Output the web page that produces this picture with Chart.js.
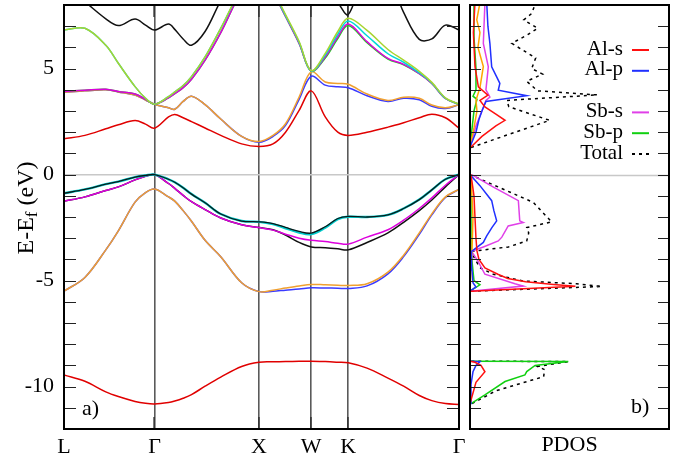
<!DOCTYPE html>
<html>
<head>
<meta charset="utf-8">
<script src="https://cdn.jsdelivr.net/npm/chart.js@4.4.1/dist/chart.umd.min.js"></script>
<style>
  html, body { margin: 0; padding: 0; background: #fff; }
  #wrap { position: relative; width: 696px; height: 462px; }
  #bands { position: absolute; left: 0; top: 0; }
  #pdos { position: absolute; left: 462px; top: 0; }
</style>
</head>
<body>
<div id="wrap">
  <canvas id="bands" width="466" height="462"></canvas>
  <canvas id="pdos" width="234" height="462"></canvas>
</div>
<script>
// k-path L - Γ - X - W - K - Γ (path length units)
const kSym = [0, 0.866, 1.866, 2.366, 2.72, 3.78];
const kLabels = ["L", "Γ", "X", "W", "K", "Γ"];
const kPts = [0, 0.2, 0.4, 0.52, 0.68, 0.78, 0.866, 1.0, 1.06, 1.14, 1.22, 1.35, 1.5, 1.7, 1.866,
  2.0, 2.12, 2.25, 2.366, 2.5, 2.62, 2.72, 2.9, 3.1, 3.25, 3.4, 3.52, 3.65, 3.78];

// valence bands (eV, relative to E_f)
const vRed = [-9.45, -9.75, -10.25, -10.47, -10.7, -10.79, -10.82, -10.75, -10.68, -10.55, -10.38, -9.98, -9.55, -9.05, -8.85,
  -8.83, -8.82, -8.81, -8.8, -8.82, -8.85, -8.88, -9.13, -9.6, -9.98, -10.42, -10.66, -10.8, -10.84];
const vOrange = [-5.5, -4.85, -3.55, -2.65, -1.3, -0.85, -0.68, -1.05, -1.25, -1.7, -2.2, -3.1, -3.87, -5.1, -5.52,
  -5.45, -5.35, -5.25, -5.18, -5.2, -5.22, -5.23, -5.15, -4.6, -3.8, -2.75, -1.85, -1.05, -0.7];
const vBlue = [-5.5, -4.85, -3.55, -2.65, -1.3, -0.85, -0.68, -1.05, -1.25, -1.7, -2.2, -3.1, -3.87, -5.1, -5.52,
  -5.5, -5.45, -5.4, -5.34, -5.35, -5.36, -5.37, -5.25, -4.68, -3.87, -2.82, -1.9, -1.08, -0.7];
const vMagenta = [-1.26, -1.05, -0.75, -0.58, -0.25, -0.08, 0, -0.42, -0.65, -0.98, -1.28, -1.65, -2.05, -2.37, -2.5,
  -2.62, -2.81, -3.0, -3.1, -3.16, -3.24, -3.28, -2.95, -2.6, -2.15, -1.6, -1.1, -0.5, 0];
const vCyan = [-0.88, -0.7, -0.45, -0.33, -0.12, -0.04, 0, -0.22, -0.36, -0.62, -0.92, -1.33, -1.86, -2.19, -2.23,
  -2.34, -2.53, -2.73, -2.81, -2.5, -2.1, -1.99, -2.0, -1.9, -1.6, -1.18, -0.72, -0.22, 0];
const vBlackTop = [-0.88, -0.7, -0.45, -0.33, -0.12, -0.04, 0, -0.22, -0.36, -0.62, -0.92, -1.33, -1.86, -2.19, -2.23,
  -2.31, -2.49, -2.68, -2.76, -2.46, -2.07, -1.97, -2.0, -1.9, -1.6, -1.18, -0.72, -0.22, 0];
const vBlackLow = [-1.26, -1.05, -0.75, -0.58, -0.25, -0.08, 0, -0.42, -0.65, -0.98, -1.28, -1.65, -2.05, -2.37, -2.5,
  -2.6, -2.85, -3.2, -3.41, -3.45, -3.5, -3.55, -3.2, -2.75, -2.25, -1.7, -1.2, -0.58, 0];

// conduction bands
const cRed = [1.69, 1.85, 2.16, 2.35, 2.55, 2.38, 2.19, 2.72, 2.84, 2.68, 2.5, 2.2, 1.85, 1.45, 1.33,
  1.45, 2.0, 3.03, 3.95, 2.72, 2.0, 1.85, 2.0, 2.24, 2.45, 2.68, 2.85, 2.68, 2.19];
const cOrange = [3.88, 3.95, 4.0, 3.9, 3.75, 3.52, 3.32, 3.15, 3.08, 3.45, 3.7, 3.3, 2.62, 1.8, 1.56,
  1.85, 2.4, 3.66, 4.85, 4.37, 4.3, 4.26, 3.8, 3.5, 3.65, 3.6, 3.28, 3.15, 3.3];
const cBlue = [3.88, 3.95, 4.0, 3.9, 3.75, 3.52, 3.32, 3.15, 3.08, 3.45, 3.7, 3.3, 2.62, 1.8, 1.53,
  1.8, 2.32, 3.55, 4.64, 4.22, 4.14, 4.1, 3.72, 3.45, 3.6, 3.53, 3.22, 3.12, 3.3];
const cMagenta = [3.92, 3.98, 4.03, 3.92, 3.8, 3.55, 3.32, 3.62, 3.82, 4.1, 4.5, 5.4, 6.7, 8.65, 9.6,
  8.6, 7.46, 6.19, 4.88, 5.56, 6.5, 7.1, 6.27, 5.48, 5.2, 4.76, 4.3, 3.59, 3.32];
const cGreen = [3.92, 3.98, 4.03, 3.92, 3.8, 3.55, 3.32, 3.62, 3.82, 4.1, 4.5, 5.4, 6.7, 8.65, 9.6,
  8.6, 7.46, 6.19, 4.88, 5.5, 6.42, 7.03, 6.22, 5.45, 5.18, 4.76, 4.3, 3.59, 3.32];
const cCyan = [6.82, 6.9, 6.1, 5.25, 4.15, 3.6, 3.32, 3.68, 3.9, 4.2, 4.62, 5.55, 6.9, 8.75, 9.7,
  8.65, 7.5, 6.24, 4.88, 5.64, 6.62, 7.25, 6.55, 5.7, 5.3, 4.8, 4.32, 3.6, 3.32];
const cLime = [6.82, 6.9, 6.1, 5.25, 4.15, 3.6, 3.32, 3.68, 3.9, 4.2, 4.62, 5.55, 6.9, 8.8, 9.8,
  8.7, 7.55, 6.28, 4.9, 5.72, 6.75, 7.37, 6.8, 5.9, 5.4, 4.87, 4.35, 3.62, 3.32];
const cBlack = [8.9, 8.15, 7.35, 7.03, 7.34, 7.05, 6.82, 7.1, 6.85, 6.4, 6.1, 6.75, 8.2, 9.8, 10.5,
  10.3, 9.9, 9.5, 9.2, 8.6, 8.1, 7.55, 9.6, 9.3, 7.65, 6.38, 6.4, 7.05, 6.82];

// projected DOS: [energy, dos] pairs, null separates the band groups
const pdosAlS = [[-10.8, 0], [-10.3, 0.15], [-9.8, 0.3], [-9.3, 0.75], [-9.0, 0.55], [-8.85, 0.25], [-8.8, 0], null,
  [-5.5, 0.05], [-5.27, 5.3], [-5.18, 4.2], [-5.05, 2.8], [-4.9, 1.9], [-4.7, 1.4], [-4.4, 0.75], [-4.0, 0.45],
  [-3.6, 0.35], [-3.0, 0.3], [-2.0, 0.25], [-1.0, 0.2], [0, 0.05], null,
  [1.3, 0.05], [1.8, 0.6], [2.3, 1.3], [2.56, 1.76], [2.85, 1.3], [3.19, 0.75], [3.5, 0.5], [3.75, 0.9],
  [4.14, 0.42], [5.1, 0.25], [6.7, 0.17], [8.1, 0.25]];
const pdosAlP = [[-10.8, 0], [-9.9, 0.05], [-9.3, 0.15], [-9.0, 0.3], [-8.82, 0.5], [-8.8, 0], null,
  [-5.5, 0], [-5.3, 0.3], [-5.1, 0.15], [-4.5, 0.1], [-3.62, 0.08], [-3.2, 0.67], [-2.89, 0.84], [-2.5, 1.1],
  [-2.18, 1.34], [-1.7, 1.2], [-1.23, 1.09], [-0.52, 0.5], [0, 0], null,
  [1.3, 0], [2.0, 0.3], [2.6, 0.45], [3.0, 0.6], [3.45, 0.8], [3.72, 2.85], [3.98, 1.42], [4.3, 1.5],
  [4.61, 1.34], [5.08, 1.09], [6.19, 1.0], [7.0, 0.9], [8.1, 0.84]];
const pdosAlD = [[-5.5, 0], [-3.6, 0.1], [-2.0, 0.15], [0, 0.05], null,
  [1.3, 0], [2.2, 0.2], [3.0, 0.35], [3.5, 0.3], [4.1, 0.5], [5.1, 0.67], [6.0, 0.4], [6.7, 0.5], [7.3, 0.34], [8.1, 0.5]];
const pdosSbS = [[-5.5, 0], [-5.26, 2.68], [-5.15, 2.26], [-4.7, 0.75], [-4.08, 0.4], [-3.62, 0.08], [-3.4, 0.7],
  [-3.13, 1.42], [-2.95, 1.6], [-2.42, 1.92], [-2.26, 2.68], [-2.18, 2.5], [-1.23, 2.43], [-0.6, 1.2], [0, 0.08], null,
  [1.3, 0], [2.3, 0.3], [3.0, 0.6], [3.5, 0.8], [3.66, 1.0], [4.0, 0.8], [5.08, 0.92], [6.19, 0.67], [8.1, 0.75]];
const pdosSbP = [[-10.8, 0.05], [-10.39, 0.75], [-9.76, 1.76], [-9.45, 2.76], [-9.29, 2.85], [-9.0, 3.27],
  [-8.82, 4.94], [-8.8, 0.05], null,
  [-5.5, 0], [-5.2, 0.5], [-5.0, 0.2], [-3.6, 0.05], [0, 0.05], null,
  [1.3, 0], [3.0, 0.2], [3.55, 0.35], [3.7, 0.15], [4.0, 0.3], [5.0, 0.3], [6.5, 0.2], [8.1, 0.2]];
const pdosTotal = [[-10.8, 0.1], [-10.2, 1.3], [-9.53, 3.7], [-9.2, 3.75], [-9.05, 3.4], [-8.82, 4.95], [-8.8, 0.05], null,
  [-5.5, 0.05], [-5.28, 6.62], [-5.15, 5.36], [-5.02, 2.68], [-4.7, 1.17], [-4.39, 0.5], [-3.9, 0.2], [-3.62, 0.1],
  [-3.41, 1.93], [-3.13, 2.85], [-2.75, 2.95], [-2.5, 2.85], [-2.23, 4.1], [-1.31, 3.18], [-0.02, 0.05], null,
  [1.28, 0.05], [2.56, 4.0], [3.2, 1.95], [3.5, 1.85], [3.76, 6.4], [3.95, 3.4], [4.4, 2.85], [4.74, 3.65],
  [5.0, 3.1], [5.5, 3.3], [6.19, 2.1], [6.6, 2.9], [6.9, 3.4], [7.3, 2.7], [7.6, 3.1], [8.1, 3.3]];

const E_MIN = -12, E_MAX = 8;
const FONT = '"Liberation Serif", "Times New Roman", serif';
Chart.defaults.font.family = FONT;
Chart.defaults.font.size = 22;
Chart.defaults.color = "#000";

function band(vals, color, width) {
  return {
    data: vals.map((e, i) => ({ x: kPts[i], y: e })),
    borderColor: color, borderWidth: width || 1.5,
    showLine: true, pointRadius: 0, fill: false,
    tension: 0.35, clip: 0
  };
}

// listed bottom-most first, reversed below because dataset 0 is painted last
const bandSets = [
  band(vBlue, "#3a3aff"), band(vOrange, "#f0a030"), band(vRed, "#e00000"),
  band(vBlackLow, "#111"), band(vMagenta, "#dd00dd"),
  band(vCyan, "#00cccc", 2.4), band(vBlackTop, "#0a1a1a", 1.3),
  band(cBlue, "#3a3aff"), band(cOrange, "#f0a030"), band(cRed, "#e00000"),
  band(cGreen, "#22cc22"), band(cMagenta, "#dd00dd"), band(cCyan, "#00d8d8"),
  band(cLime, "#a8d430"), band(cBlack, "#111")
].reverse();

function inwardTicks(ctx, a, yScale, len) {
  ctx.strokeStyle = "#222";
  ctx.lineWidth = 1.2;
  for (let v = E_MIN; v <= E_MAX; v++) {
    const py = Math.round(yScale.getPixelForValue(v)) + 0.5;
    ctx.beginPath();
    ctx.moveTo(a.left, py); ctx.lineTo(a.left + len, py);
    ctx.moveTo(a.right, py); ctx.lineTo(a.right - len, py);
    ctx.stroke();
  }
}

const bandFrame = {
  id: "bandFrame",
  afterDatasetsDraw(chart) {
    const { ctx, chartArea: a, scales: { x, y } } = chart;
    ctx.save();
    inwardTicks(ctx, a, y, 12);
    kSym.forEach(k => {
      const px = Math.round(x.getPixelForValue(k));
      ctx.beginPath();
      ctx.moveTo(px, a.bottom); ctx.lineTo(px, a.bottom - 12);
      ctx.moveTo(px, a.top); ctx.lineTo(px, a.top + 12);
      ctx.stroke();
    });
    ctx.strokeStyle = "#000";
    ctx.lineWidth = 2;
    ctx.strokeRect(a.left, a.top, a.width, a.height);
    ctx.fillStyle = "#000";
    ctx.font = "22px " + FONT;
    ctx.textAlign = "left";
    ctx.textBaseline = "alphabetic";
    ctx.fillText("a)", a.left + 18, a.bottom - 14);

    // axis title E-E_f (eV) with a subscript
    ctx.translate(27, 208);
    ctx.rotate(-Math.PI / 2);
    const big = "24px " + FONT, small = "17px " + FONT;
    ctx.font = big; const w1 = ctx.measureText("E-E").width, w3 = ctx.measureText(" (eV)").width;
    ctx.font = small; const w2 = ctx.measureText("f").width;
    let x0 = -(w1 + w2 + w3) / 2;
    ctx.textBaseline = "middle";
    ctx.font = big; ctx.fillText("E-E", x0, 0); x0 += w1;
    ctx.font = small; ctx.fillText("f", x0, 6); x0 += w2;
    ctx.font = big; ctx.fillText(" (eV)", x0, 0);
    ctx.restore();
  }
};

new Chart(document.getElementById("bands"), {
  type: "scatter",
  data: { datasets: bandSets },
  options: {
    responsive: false, animation: false, events: [],
    layout: { padding: { left: 0, top: 5, right: 7, bottom: 0 } },
    plugins: { legend: { display: false }, tooltip: { enabled: false } },
    scales: {
      x: {
        type: "linear", min: 0, max: 3.78,
        afterBuildTicks: s => { s.ticks = kSym.map(v => ({ value: v })); },
        afterFit: s => { s.height = 33; s.paddingLeft = 0; s.paddingRight = 0; },
        ticks: { autoSkip: false, maxRotation: 0, padding: 5, callback: (v, i) => kLabels[i] },
        grid: { color: "#5a5a5a", lineWidth: 1.6, drawTicks: false },
        border: { display: false }
      },
      y: {
        min: E_MIN, max: E_MAX,
        afterFit: s => { s.width = 64; s.paddingTop = 0; s.paddingBottom = 0; },
        ticks: { stepSize: 1, autoSkip: false, padding: 10, callback: v => (v % 5 === 0 ? String(v) : "") },
        grid: { drawTicks: false, lineWidth: 1.5, color: c => (c.tick && c.tick.value === 0 ? "#c8c8c8" : "rgba(0,0,0,0)") },
        border: { display: false }
      }
    }
  },
  plugins: [bandFrame]
});

// ---------- PDOS panel ----------
function pdos(pairs, label, color, dash) {
  return {
    label,
    data: pairs.map(p => (p ? { x: p[1], y: p[0] } : { x: null, y: null })),
    borderColor: color, borderWidth: 1.5, borderDash: dash || [],
    showLine: true, pointRadius: 0, fill: false, tension: 0, spanGaps: false, clip: 0
  };
}

const pdosSets = [
  pdos(pdosAlS, "Al-s", "#ff1010"),
  pdos(pdosAlP, "Al-p", "#2030ff"),
  pdos(pdosAlD, "", "#ffa500"),
  pdos(pdosSbS, "Sb-s", "#e040e8"),
  pdos(pdosSbP, "Sb-p", "#10d010"),
  pdos(pdosTotal, "Total", "#000", [3, 4])
];

const pdosFrame = {
  id: "pdosFrame",
  beforeDatasetsDraw(chart) {
    const { ctx, chartArea: a, scales: { y } } = chart;
    const py = Math.round(y.getPixelForValue(0)) + 0.5;
    ctx.save();
    ctx.strokeStyle = "#c8c8c8";
    ctx.lineWidth = 1.5;
    ctx.beginPath(); ctx.moveTo(a.left, py); ctx.lineTo(a.right, py); ctx.stroke();
    ctx.restore();
  },
  afterDatasetsDraw(chart) {
    const { ctx, chartArea: a, scales: { y } } = chart;
    ctx.save();
    inwardTicks(ctx, a, y, 11);
    ctx.strokeStyle = "#000";
    ctx.lineWidth = 2;
    ctx.strokeRect(a.left, a.top, a.width, a.height);

    // key: right-aligned names with a short sample after each
    ctx.font = "21px " + FONT;
    ctx.fillStyle = "#000";
    ctx.textAlign = "right";
    ctx.textBaseline = "middle";
    chart.data.datasets.forEach((ds, i) => {
      const ry = 49 + i * 20.8;
      if (!ds.label) return;
      ctx.fillText(ds.label, 161, ry);
      ctx.strokeStyle = ds.borderColor;
      ctx.lineWidth = 2;
      ctx.setLineDash(ds.borderDash);
      ctx.beginPath(); ctx.moveTo(170, ry + 1); ctx.lineTo(187, ry + 1); ctx.stroke();
      ctx.setLineDash([]);
    });

    ctx.textAlign = "left";
    ctx.textBaseline = "alphabetic";
    ctx.font = "22px " + FONT;
    ctx.fillText("b)", 169, a.bottom - 16);
    ctx.textAlign = "center";
    ctx.textBaseline = "middle";
    ctx.fillText("PDOS", (a.left + a.right) / 2, 445);
    ctx.restore();
  }
};

new Chart(document.getElementById("pdos"), {
  type: "scatter",
  data: { datasets: pdosSets },
  options: {
    responsive: false, animation: false, events: [],
    layout: { padding: { left: 8, top: 5, right: 27, bottom: 33 } },
    plugins: { legend: { display: false }, tooltip: { enabled: false } },
    scales: {
      x: { type: "linear", min: 0, max: 10, display: false },
      y: { min: E_MIN, max: E_MAX, display: false }
    }
  },
  plugins: [pdosFrame]
});
</script>
</body>
</html>
